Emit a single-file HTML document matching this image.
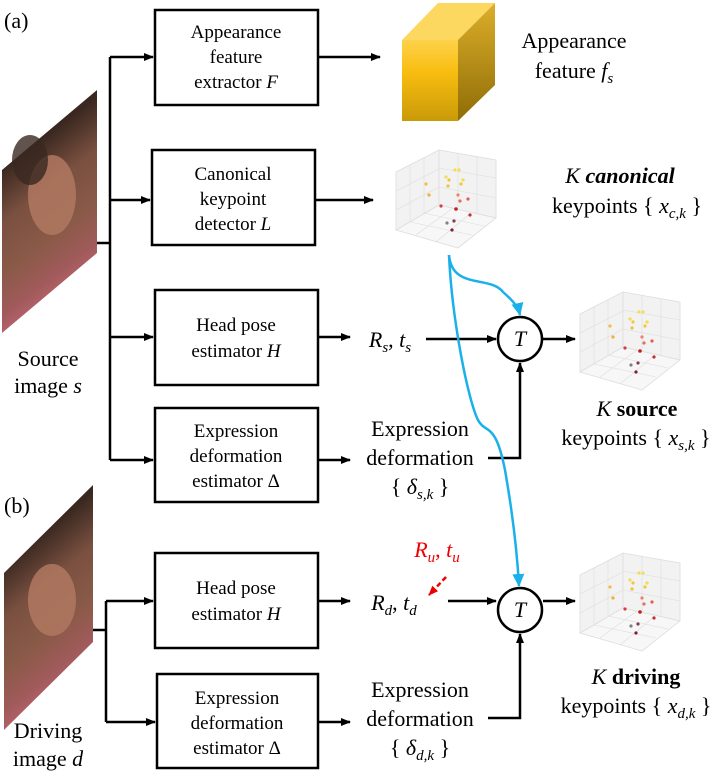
<!DOCTYPE html>
<html><head><meta charset="utf-8"><style>
html,body{margin:0;padding:0;background:#fff}
svg{display:block}
text{font-family:"Liberation Serif",serif;fill:#000}
.b{font-size:19px;text-anchor:middle}
.l{font-size:22px;text-anchor:middle}
.i{font-style:italic}
</style></head><body>
<svg width="727" height="778" viewBox="0 0 727 778" xmlns="http://www.w3.org/2000/svg">
<defs>
<marker id="ah" markerWidth="10" markerHeight="8" refX="9" refY="4" orient="auto" markerUnits="userSpaceOnUse"><path d="M0,0 L10,4 L0,8 z" fill="#000"/></marker>
<marker id="ab" markerWidth="14" markerHeight="12" refX="12" refY="6" orient="auto" markerUnits="userSpaceOnUse"><path d="M0,0 L13,6 L0,12 z" fill="#1ab0ea"/></marker>
<marker id="ar" markerWidth="10" markerHeight="8" refX="9" refY="4" orient="auto" markerUnits="userSpaceOnUse"><path d="M0,0 L10,4 L0,8 z" fill="#e00"/></marker>
<linearGradient id="gf" x1="0" y1="0" x2="0" y2="1"><stop offset="0" stop-color="#fdd24a"/><stop offset="0.4" stop-color="#f8bd10"/><stop offset="1" stop-color="#c99a08"/></linearGradient>
<linearGradient id="gs" x1="0" y1="0" x2="0" y2="1"><stop offset="0" stop-color="#dcae2a"/><stop offset="1" stop-color="#8f6d06"/></linearGradient>
<linearGradient id="face1" x1="0" y1="0" x2="0.3" y2="1"><stop offset="0" stop-color="#2a1d18"/><stop offset="0.3" stop-color="#3a2820"/><stop offset="0.5" stop-color="#7a5040"/><stop offset="0.7" stop-color="#8a5a48"/><stop offset="0.85" stop-color="#a05a5a"/><stop offset="1" stop-color="#c86878"/></linearGradient>
<g id="kp">
<g fill="#f2f2f2" stroke="#ddd" stroke-width="0.8">
<path d="M0,22 L43,0 L43,55 L0,80 z"/>
<path d="M43,0 L100,10 L100,68 L43,55 z"/>
<path d="M0,80 L43,55 L100,68 L62,98 z" fill="#f7f7f7"/>
</g>
<g stroke="#ddd" stroke-width="0.6" fill="none">
<path d="M14,15 L14,72 M28,8 L28,63 M0,41 L43,19 M0,60 L43,37"/>
<path d="M62,3 L62,59 M81,7 L81,63 M43,18 L100,28 M43,37 L100,48"/>
<path d="M14,72 L76,85 M28,63 L88,76 M57,58 L20,85 M75,63 L40,92"/>
</g>
<g>
<circle cx="59" cy="20" r="1.6" fill="#f5dc50"/><circle cx="63" cy="20" r="1.6" fill="#f5dc50"/>
<circle cx="50" cy="27" r="1.6" fill="#f5dc50"/><circle cx="53" cy="30" r="1.6" fill="#f0c840"/>
<circle cx="67" cy="30" r="1.6" fill="#f5dc50"/><circle cx="65" cy="34" r="1.6" fill="#f0c840"/>
<circle cx="52" cy="36" r="1.6" fill="#f0c040"/><circle cx="30" cy="34" r="1.6" fill="#f0c040"/>
<circle cx="33" cy="45" r="1.6" fill="#f0b030"/><circle cx="62" cy="45" r="1.6" fill="#f08070"/>
<circle cx="72" cy="49" r="1.6" fill="#e06050"/><circle cx="64" cy="51" r="1.6" fill="#e07060"/>
<circle cx="45" cy="56" r="1.6" fill="#d04040"/><circle cx="60" cy="59" r="1.8" fill="#c02020"/>
<circle cx="74" cy="65" r="1.6" fill="#c03030"/><circle cx="58" cy="71" r="1.6" fill="#804050"/>
<circle cx="51" cy="73" r="1.6" fill="#808080"/><circle cx="56" cy="80" r="1.6" fill="#802030"/>
</g>
</g>
</defs>

<!-- (a) -->
<text x="4" y="28" style="font-size:22px">(a)</text>
<polygon points="2,170 97,90 97,253 2,333" fill="url(#face1)"/>
<ellipse cx="52" cy="195" rx="24" ry="40" fill="#b07860" opacity="0.85"/>
<ellipse cx="30" cy="160" rx="18" ry="25" fill="#3a2820" opacity="0.8"/>
<text class="l" x="48" y="366">Source</text>
<text class="l" x="48" y="393">image <tspan class="i">s</tspan></text>

<g stroke="#000" stroke-width="2.5" fill="none">
<path d="M97,243 L110,243"/>
<path d="M110,57 L110,460"/>
</g>
<g stroke="#000" stroke-width="2.5" fill="none" marker-end="url(#ah)">
<path d="M110,57 L153,57"/>
<path d="M110,200 L150,200"/>
<path d="M110,337 L153,337"/>
<path d="M110,460 L153,460"/>
</g>
<g stroke="#000" stroke-width="2.5" fill="#fff">
<rect x="155" y="10" width="163" height="95"/>
<rect x="152" y="150" width="163" height="95"/>
<rect x="155" y="290" width="163" height="95"/>
<rect x="155" y="408" width="163" height="94"/>
<rect x="155" y="553" width="163" height="95"/>
<rect x="157" y="674" width="161" height="94"/>
</g>
<text class="b" x="236" y="38">Appearance</text>
<text class="b" x="236" y="63">feature</text>
<text class="b" x="236" y="88">extractor <tspan class="i">F</tspan></text>
<text class="b" x="233" y="180">Canonical</text>
<text class="b" x="233" y="205">keypoint</text>
<text class="b" x="233" y="230">detector <tspan class="i">L</tspan></text>
<text class="b" x="236" y="331">Head pose</text>
<text class="b" x="236" y="357">estimator <tspan class="i">H</tspan></text>
<text class="b" x="236" y="437">Expression</text>
<text class="b" x="236" y="462">deformation</text>
<text class="b" x="236" y="487">estimator Δ</text>
<text class="b" x="236" y="594">Head pose</text>
<text class="b" x="236" y="620">estimator <tspan class="i">H</tspan></text>
<text class="b" x="237" y="704">Expression</text>
<text class="b" x="237" y="729">deformation</text>
<text class="b" x="237" y="754">estimator Δ</text>

<g stroke="#000" stroke-width="2.5" fill="none" marker-end="url(#ah)">
<path d="M318,57 L380,57"/>
<path d="M315,200 L373,200"/>
<path d="M318,337 L350,337"/>
<path d="M318,460 L350,460"/>
<path d="M318,601 L350,601"/>
<path d="M318,722 L350,722"/>
<path d="M426,339 L496,339"/>
<path d="M488,458 L520,458 L520,363"/>
<path d="M448,601 L496,601"/>
<path d="M488,718 L520,718 L520,634"/>
<path d="M543,339 L575,339"/>
<path d="M543,601 L575,601"/>
</g>

<!-- cube -->
<polygon points="402,40 438,3 495,3 458,40" fill="#fcd860"/>
<polygon points="458,40 495,3 495,85 458,121" fill="url(#gs)"/>
<rect x="402" y="40" width="56" height="81" fill="url(#gf)"/>
<text class="l" x="574" y="48">Appearance</text>
<text class="l" x="574" y="78">feature <tspan class="i">f<tspan style="font-size:15px" dy="5">s</tspan></tspan></text>

<use href="#kp" x="396" y="150"/>
<text class="l" x="620" y="183"><tspan class="i">K</tspan> <tspan class="i" font-weight="bold">canonical</tspan></text>
<text class="l" x="627" y="213">keypoints { <tspan class="i">x<tspan style="font-size:15px" dy="5">c,k</tspan></tspan><tspan dy="-5"> }</tspan></text>

<text class="l i" x="390" y="347">R<tspan style="font-size:15px" dy="5">s</tspan><tspan dy="-5" font-style="normal">, </tspan>t<tspan style="font-size:15px" dy="5">s</tspan></text>
<circle cx="520" cy="339" r="22" fill="#fff" stroke="#000" stroke-width="2.5"/>
<text class="l i" x="520" y="346">T</text>
<circle cx="520" cy="610" r="22" fill="#fff" stroke="#000" stroke-width="2.5"/>
<text class="l i" x="520" y="617">T</text>

<text class="l" x="420" y="436">Expression</text>
<text class="l" x="420" y="465">deformation</text>
<text class="l" x="420" y="494">{ <tspan class="i">δ<tspan style="font-size:15px" dy="5">s,k</tspan></tspan><tspan dy="-5"> }</tspan></text>

<use href="#kp" x="580" y="292"/>
<text class="l" x="637" y="416"><tspan class="i">K</tspan> <tspan font-weight="bold">source</tspan></text>
<text class="l" x="636" y="445">keypoints { <tspan class="i">x<tspan style="font-size:15px" dy="5">s,k</tspan></tspan><tspan dy="-5"> }</tspan></text>

<!-- (b) -->
<text x="4" y="513" style="font-size:22px">(b)</text>
<polygon points="4,573 93,485 93,642 4,730" fill="url(#face1)"/>
<ellipse cx="52" cy="600" rx="24" ry="36" fill="#b07860" opacity="0.85"/>
<text class="l" x="48" y="738">Driving</text>
<text class="l" x="48" y="766">image <tspan class="i">d</tspan></text>
<g stroke="#000" stroke-width="2.5" fill="none">
<path d="M93,630 L106,630 M106,601 L106,722"/>
</g>
<g stroke="#000" stroke-width="2.5" fill="none" marker-end="url(#ah)">
<path d="M106,601 L153,601"/>
<path d="M106,722 L155,722"/>
</g>
<text class="l i" x="394" y="610">R<tspan style="font-size:15px" dy="5">d</tspan><tspan dy="-5" font-style="normal">, </tspan>t<tspan style="font-size:15px" dy="5">d</tspan></text>
<text class="l i" x="437" y="557" style="fill:#e00">R<tspan style="font-size:15px;fill:#e00" dy="5">u</tspan><tspan dy="-5" font-style="normal" style="fill:#e00">, </tspan>t<tspan style="font-size:15px;fill:#e00" dy="5">u</tspan></text>
<path d="M446,577 L429,595" stroke="#e00" stroke-width="2.5" stroke-dasharray="5,3" fill="none" marker-end="url(#ar)"/>

<text class="l" x="420" y="697">Expression</text>
<text class="l" x="420" y="726">deformation</text>
<text class="l" x="420" y="755">{ <tspan class="i">δ<tspan style="font-size:15px" dy="5">d,k</tspan></tspan><tspan dy="-5"> }</tspan></text>

<use href="#kp" x="580" y="553"/>
<text class="l" x="636" y="684"><tspan class="i">K</tspan> <tspan font-weight="bold">driving</tspan></text>
<text class="l" x="636" y="713">keypoints { <tspan class="i">x<tspan style="font-size:15px" dy="5">d,k</tspan></tspan><tspan dy="-5"> }</tspan></text>

<!-- blue curves -->
<g stroke="#1ab0ea" stroke-width="2.5" fill="none">
<path d="M449,255 C452,290 490,275 503,292 C512,300 518,306 520,315" marker-end="url(#ab)"/>
<path d="M449,255 C452,320 468,400 478,420 C486,435 495,420 505,470 C512,510 517,550 519,586" marker-end="url(#ab)"/>
</g>
</svg>
</body></html>
